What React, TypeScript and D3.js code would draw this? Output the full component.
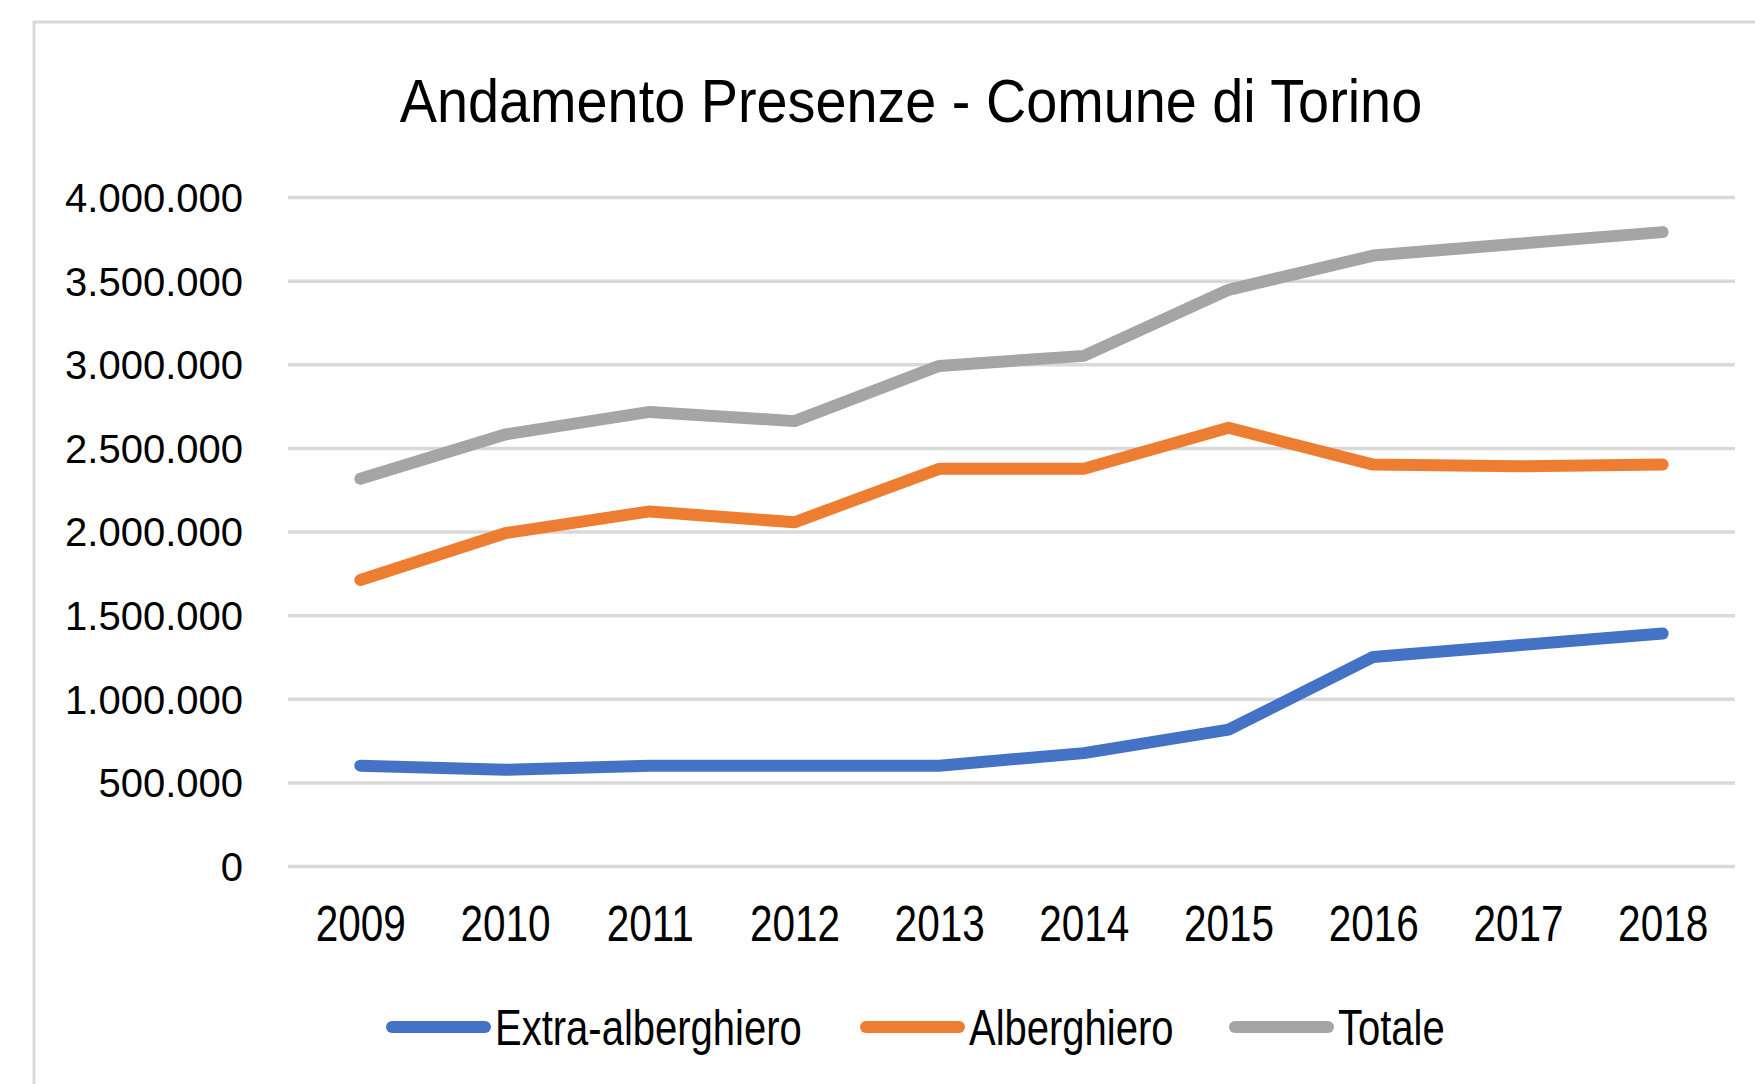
import React, { useRef, useEffect } from "react";
import { select, scalePoint, scaleLinear, axisLeft, axisBottom, line } from "d3";

const years = ["2009", "2010", "2011", "2012", "2013", "2014", "2015", "2016", "2017", "2018"];

const extraAlberghiero = [600000, 575000, 600000, 600000, 600000, 675000, 815000, 1250000, 1320000, 1390000];
const alberghiero = [1710000, 1990000, 2120000, 2055000, 2375000, 2375000, 2620000, 2400000, 2390000, 2400000];
const totale = [2315000, 2580000, 2715000, 2660000, 2990000, 3050000, 3445000, 3650000, 3720000, 3790000];

const seriesNames = ["Extra-alberghiero", "Alberghiero", "Totale"];
const seriesColors = ["#4472c4", "#ed7d31", "#a5a5a5"];

const yTicks = [0, 500000, 1000000, 1500000, 2000000, 2500000, 3000000, 3500000, 4000000];

const title = "Andamento Presenze - Comune di Torino";

// no narrow font installed, so the condensed look is faked with scaleX
const font = "'Liberation Sans', Arial, sans-serif";

const fmt = (v: number) => String(v).replace(/\B(?=(\d{3})+(?!\d))/g, ".");

const Chart = () => {
  const ref = useRef<SVGSVGElement>(null);

  const width = 1755;
  const height = 1084;

  useEffect(() => {
    const svg = select(ref.current);
    svg.selectAll("*").remove();

    const margin = { top: 197, right: 20, bottom: 218, left: 288 };
    const innerWidth = width - margin.left - margin.right;
    const innerHeight = height - margin.top - margin.bottom;

    // chart frame
    svg
      .append("rect")
      .attr("x", 34)
      .attr("y", 22)
      .attr("width", width + 10)
      .attr("height", height + 10)
      .attr("fill", "white")
      .attr("stroke", "#d9d9d9")
      .attr("stroke-width", 3);

    svg
      .append("text")
      .attr("transform", "translate(911,122) scale(0.9,1)")
      .attr("text-anchor", "middle")
      .attr("font-family", font)
      .attr("font-size", 62)
      .attr("fill", "#000")
      .text(title);

    const xScale = scalePoint().domain(years).range([0, innerWidth]).padding(0.5);
    const yScale = scaleLinear().domain([0, 4000000]).range([innerHeight, 0]);

    const g = svg.append("g").attr("transform", `translate(${margin.left},${margin.top})`);

    const yAxisG = g
      .append("g")
      .call(axisLeft(yScale).tickValues(yTicks).tickSize(-innerWidth).tickPadding(45).tickFormat((d) => fmt(+d)));
    yAxisG.select(".domain").remove();
    yAxisG.selectAll(".tick line").attr("stroke", "#d9d9d9").attr("stroke-width", 3.5);
    yAxisG
      .selectAll(".tick text")
      .attr("font-family", font)
      .attr("font-size", 40)
      .attr("fill", "#000")
      .attr("dy", "0.36em");

    const xAxisG = g
      .append("g")
      .attr("transform", `translate(0,${innerHeight})`)
      .call(axisBottom(xScale).tickSize(0).tickPadding(40));
    xAxisG.select(".domain").remove();
    xAxisG
      .selectAll(".tick text")
      .attr("font-family", font)
      .attr("font-size", 50)
      .attr("fill", "#000")
      .attr("transform", "scale(0.81,1)");

    const allSeries = [extraAlberghiero, alberghiero, totale];
    const lineGenerator = line<number>()
      .x((d, i) => xScale(years[i]) as number)
      .y((d) => yScale(d));

    g.selectAll(".line-path")
      .data(allSeries)
      .enter()
      .append("path")
      .attr("class", "line-path")
      .attr("fill", "none")
      .attr("stroke", (d, i) => seriesColors[i])
      .attr("stroke-width", 12)
      .attr("stroke-linecap", "round")
      .attr("stroke-linejoin", "round")
      .attr("d", (d) => lineGenerator(d));

    // legend
    const legendX = [388, 862, 1231];
    const legendY = 1027;
    const legend = svg
      .selectAll(".legend-item")
      .data(seriesNames)
      .enter()
      .append("g")
      .attr("class", "legend-item")
      .attr("transform", (d, i) => `translate(${legendX[i]},${legendY})`);
    legend
      .append("line")
      .attr("x1", 4)
      .attr("x2", 97)
      .attr("stroke", (d, i) => seriesColors[i])
      .attr("stroke-width", 12)
      .attr("stroke-linecap", "round");
    legend
      .append("text")
      .attr("transform", "translate(107,0) scale(0.8,1)")
      .attr("dy", "0.36em")
      .attr("font-family", font)
      .attr("font-size", 50)
      .attr("fill", "#000")
      .text((d) => d);
  }, []);

  return (
    <svg
      ref={ref}
      width={width}
      height={height}
      style={{ position: "absolute", left: 0, top: 0, background: "white" }}
    ></svg>
  );
};

export default function App() {
  return <Chart />;
}
